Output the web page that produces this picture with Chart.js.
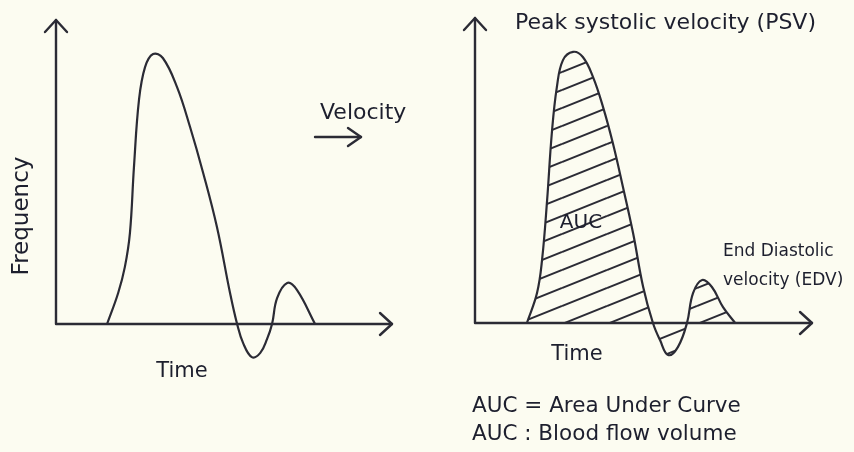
<!DOCTYPE html>
<html>
<head>
<meta charset="utf-8">
<script src="https://cdn.jsdelivr.net/npm/chart.js@4"></script>
<style>
  html, body { margin: 0; padding: 0; background: #fcfcf1; }
  #wrap { position: relative; width: 854px; height: 452px; overflow: hidden; }
  canvas { position: absolute; top: 0; }
  #left { left: 0; }
  #right { left: 427px; }
</style>
</head>
<body>
<div id="wrap">
  <canvas id="left" width="427" height="452"></canvas>
  <canvas id="right" width="427" height="452"></canvas>
</div>
<script>
// waveform as frequency over time (arbitrary units, baseline = 0)
const leftTime = [15.2, 18.5, 20.5, 22.0, 23.2, 24.7, 26.5, 28.9, 31.8, 36.0, 39.9, 43.8, 47.9, 51.8, 53.9, 55.7, 58.3, 60.8, 62.8, 64.3, 65.8, 68.8, 71.7, 77.1];
const leftFreq = [0, 10.2, 18.8, 29.9, 51.6, 73.7, 84.5, 88.8, 87.5, 78.0, 64.8, 49.7, 31.9, 10.2, 0, -6.3, -10.9, -9.5, -5.0, 0, 8.5, 13.5, 11.2, 0];

// doppler velocity waveform, area under it is hatched
const rightTime = [15.4, 18.4, 19.9, 21.4, 22.8, 24.3, 26.1, 29.1, 32.0, 35.0, 38.0, 40.9, 43.9, 46.9, 49.9, 52.8, 54.9, 57.3, 60.2, 62.9, 64.7, 67.4, 70.3, 73.6, 77.2];
const rightVelocity = [0, 9.8, 20.7, 40.3, 62.3, 77.4, 86.2, 88.9, 87.2, 80.7, 70.8, 59.0, 44.6, 29.5, 11.8, 0, -5.6, -10.5, -7.9, 0, 9.8, 14.1, 11.8, 5.2, 0];

const INK = '#2b2b35';
const TEXT = '#1d1f2e';
const FONT = '"DejaVu Sans", sans-serif';

function toPoints(xs, ys) {
  return xs.map((x, i) => ({ x: x, y: ys[i] }));
}

function hatch() {
  const w = 45, h = 18;
  const c = document.createElement('canvas');
  c.width = w; c.height = h;
  const g = c.getContext('2d');
  g.strokeStyle = INK;
  g.lineWidth = 2;
  g.beginPath();
  for (let k = -1; k <= 1; k++) {
    g.moveTo(0, h + k * h);
    g.lineTo(w, k * h);
  }
  g.stroke();
  return g.createPattern(c, 'repeat');
}

function arrowHead(ctx, x, y, dir, len, spread) {
  // dir: 'up' or 'right'
  ctx.beginPath();
  if (dir === 'up') {
    ctx.moveTo(x - spread, y + len);
    ctx.lineTo(x, y);
    ctx.lineTo(x + spread, y + len);
  } else {
    ctx.moveTo(x - len, y - spread);
    ctx.lineTo(x, y);
    ctx.lineTo(x - len, y + spread);
  }
  ctx.stroke();
}

// axes with open arrow tips, drawn on top of the fill
const arrowAxes = {
  id: 'arrowAxes',
  afterDraw(chart) {
    const { ctx, scales } = chart;
    const x0 = scales.x.getPixelForValue(0);
    const x1 = scales.x.getPixelForValue(100);
    const y0 = scales.y.getPixelForValue(0);
    const y1 = scales.y.getPixelForValue(100);
    ctx.save();
    ctx.strokeStyle = INK;
    ctx.lineWidth = 2.4;
    ctx.lineCap = 'round';
    ctx.lineJoin = 'round';
    ctx.beginPath();
    ctx.moveTo(x0, y1);
    ctx.lineTo(x0, y0);
    ctx.lineTo(x1, y0);
    ctx.stroke();
    arrowHead(ctx, x0, y1, 'up', 12, 11);
    arrowHead(ctx, x1, y0, 'right', 12, 11);
    const extra = chart.options.plugins.arrowAxes.extra;
    if (extra) {
      ctx.beginPath();
      ctx.moveTo(extra.x0, extra.y);
      ctx.lineTo(extra.x1, extra.y);
      ctx.stroke();
      arrowHead(ctx, extra.x1, extra.y, 'right', 13, 9);
    }
    ctx.restore();
  }
};

// free text labels in canvas coordinates
const notes = {
  id: 'notes',
  afterDraw(chart) {
    const ctx = chart.ctx;
    ctx.save();
    ctx.fillStyle = TEXT;
    ctx.textBaseline = 'middle';
    chart.options.plugins.notes.items.forEach(n => {
      ctx.save();
      ctx.font = n.size + 'px ' + FONT;
      ctx.textAlign = n.align || 'left';
      ctx.translate(n.x, n.y);
      if (n.rotate) ctx.rotate(n.rotate);
      ctx.fillText(n.text, 0, 0);
      ctx.restore();
    });
    ctx.restore();
  }
};

function makeChart(id, points, fill, padding, items, extra) {
  return new Chart(document.getElementById(id), {
    type: 'line',
    data: {
      datasets: [{
        data: points,
        borderColor: INK,
        borderWidth: 2.2,
        pointRadius: 0,
        tension: 0.4,
        fill: fill ? 'origin' : false,
        backgroundColor: fill ? hatch() : 'transparent'
      }]
    },
    options: {
      responsive: false,
      animation: false,
      devicePixelRatio: 1,
      layout: { padding: padding },
      scales: {
        x: { type: 'linear', min: 0, max: 100, display: false },
        y: { min: -15, max: 100, display: false }
      },
      plugins: {
        legend: { display: false },
        tooltip: { enabled: false },
        arrowAxes: { extra: extra },
        notes: { items: items }
      }
    },
    plugins: [arrowAxes, notes]
  });
}

makeChart('left', toPoints(leftTime, leftFreq), false,
  { left: 56, right: 35, top: 20, bottom: 82.4 },
  [
    { text: 'Velocity', x: 320, y: 113, size: 22 },
    { text: 'Frequency', x: 22, y: 216, size: 23, align: 'center', rotate: -Math.PI / 2 },
    { text: 'Time', x: 182, y: 372, size: 21, align: 'center' }
  ],
  { x0: 315, x1: 361, y: 137 });

makeChart('right', toPoints(rightTime, rightVelocity), true,
  { left: 48, right: 42, top: 18, bottom: 83.25 },
  [
    { text: 'Peak systolic velocity (PSV)', x: 88, y: 23, size: 22 },
    { text: 'AUC', x: 154, y: 223, size: 20, align: 'center' },
    { text: 'End Diastolic', x: 296, y: 252, size: 17 },
    { text: 'velocity (EDV)', x: 296, y: 281, size: 17 },
    { text: 'Time', x: 150, y: 355, size: 21, align: 'center' },
    { text: 'AUC = Area Under Curve', x: 45, y: 406, size: 21.5 },
    { text: 'AUC : Blood flow volume', x: 45, y: 434, size: 21.5 }
  ],
  null);
</script>
</body>
</html>
